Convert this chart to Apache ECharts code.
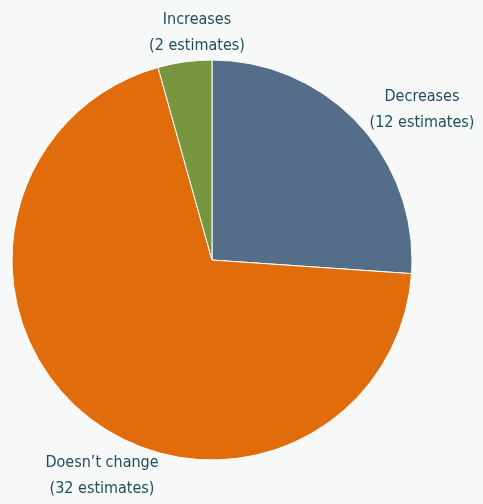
<!DOCTYPE html>
<html>
<head>
<meta charset="utf-8">
<script src="https://cdn.jsdelivr.net/npm/echarts@6/dist/echarts.min.js"></script>
<style>
  html, body { margin: 0; padding: 0; background: #f7f8f8; }
  #chart { width: 483px; height: 504px; }
</style>
</head>
<body>
<div id="chart"></div>
<script>
const categories = ['Decreases', 'Doesn\u2019t change', 'Increases'];
const counts = [12, 32, 2];
const colors = ['#546d89', '#e06c0b', '#77963f'];

// label anchor points (centre of the two-line label)
const labelPos = [
    { x: 422, y: 110 },
    { x: 102, y: 476 },
    { x: 197, y: 33 }
];

var myChart = echarts.init(document.getElementById('chart'));
myChart.setOption({
    backgroundColor: '#f7f8f8',
    animation: false,
    color: colors,
    series: [
        {
            type: 'pie',
            center: [212, 260],
            radius: 200,
            startAngle: 90,
            clockwise: true,
            data: categories.map((name, i) => ({ name: name, value: counts[i] })),
            itemStyle: {
                borderColor: '#ffffff',
                borderWidth: 1
            },
            label: {
                show: true,
                position: 'outside',
                overflow: 'none',
                formatter: '{b}\n({c} estimates)',
                fontFamily: '"DejaVu Sans Condensed", "Liberation Sans Narrow", sans-serif',
                fontSize: 16,
                lineHeight: 26,
                color: '#1f4d5a',
                align: 'center'
            },
            labelLine: { show: false },
            labelLayout: function (params) {
                const p = labelPos[params.dataIndex];
                return {
                    x: p.x,
                    y: p.y,
                    width: 200,
                    align: 'center',
                    verticalAlign: 'middle'
                };
            }
        }
    ]
});
</script>
</body>
</html>
